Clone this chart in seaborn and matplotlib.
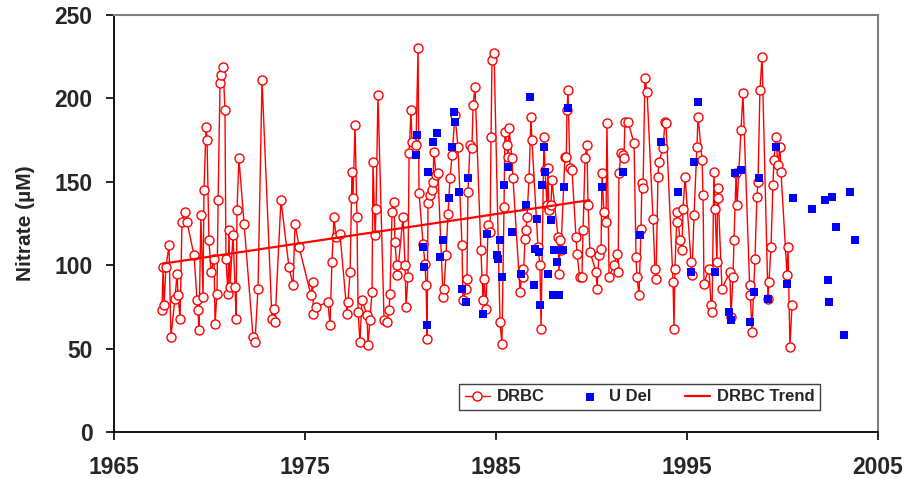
import matplotlib
matplotlib.use("Agg")
import matplotlib.pyplot as plt
import seaborn as sns
import pandas as pd

drbc_years = [
    1967.51, 1967.57, 1967.62, 1967.72, 1967.88, 1967.98, 1968.19, 1968.30, 1968.35, 1968.46,
    1968.56, 1968.72, 1968.82, 1969.19, 1969.35, 1969.40, 1969.45, 1969.55, 1969.66, 1969.71,
    1969.82, 1969.87, 1969.97, 1970.08, 1970.24, 1970.29, 1970.39, 1970.45, 1970.55, 1970.60,
    1970.71, 1970.81, 1970.86, 1970.97, 1971.02, 1971.07, 1971.23, 1971.34, 1971.39, 1971.44,
    1971.54, 1971.81, 1972.28, 1972.38, 1972.54, 1972.75, 1973.27, 1973.38, 1973.43, 1973.74,
    1974.16, 1974.37, 1974.48, 1974.69, 1975.31, 1975.40, 1975.44, 1975.58, 1976.20, 1976.31,
    1976.41, 1976.52, 1976.62, 1976.83, 1977.20, 1977.25, 1977.36, 1977.46, 1977.51, 1977.62,
    1977.72, 1977.78, 1977.88, 1977.98, 1978.25, 1978.30, 1978.40, 1978.51, 1978.56, 1978.67,
    1978.72, 1978.82, 1979.14, 1979.29, 1979.40, 1979.45, 1979.56, 1979.66, 1979.71, 1979.80,
    1979.84, 1980.13, 1980.24, 1980.29, 1980.39, 1980.45, 1980.55, 1980.60, 1980.81, 1980.92,
    1980.97, 1981.18, 1981.28, 1981.34, 1981.39, 1981.44, 1981.54, 1981.65, 1981.70, 1981.75,
    1981.86, 1981.96, 1982.23, 1982.28, 1982.38, 1982.49, 1982.59, 1982.70, 1982.85, 1983.01,
    1983.22, 1983.27, 1983.43, 1983.48, 1983.53, 1983.64, 1983.74, 1983.80, 1983.90, 1984.21,
    1984.32, 1984.37, 1984.48, 1984.58, 1984.69, 1984.74, 1984.79, 1984.90, 1985.21, 1985.31,
    1985.42, 1985.47, 1985.58, 1985.63, 1985.68, 1985.84, 1985.89, 1986.26, 1986.39, 1986.43,
    1986.52, 1986.57, 1986.62, 1986.73, 1986.83, 1986.88, 1987.20, 1987.30, 1987.36, 1987.51,
    1987.57, 1987.67, 1987.72, 1987.77, 1987.88, 1987.93, 1988.25, 1988.30, 1988.35, 1988.40,
    1988.61, 1988.68, 1988.72, 1988.77, 1988.87, 1988.98, 1989.19, 1989.24, 1989.38, 1989.50,
    1989.56, 1989.66, 1989.76, 1989.82, 1989.92, 1990.24, 1990.29, 1990.39, 1990.50, 1990.55,
    1990.65, 1990.76, 1990.81, 1990.92, 1991.18, 1991.34, 1991.39, 1991.44, 1991.54, 1991.65,
    1991.70, 1991.75, 1991.91, 1992.23, 1992.33, 1992.38, 1992.49, 1992.59, 1992.64, 1992.70,
    1992.80, 1992.91, 1993.22, 1993.32, 1993.38, 1993.48, 1993.53, 1993.74, 1993.85, 1993.90,
    1994.27, 1994.32, 1994.37, 1994.46, 1994.50, 1994.63, 1994.74, 1994.79, 1994.90, 1995.21,
    1995.26, 1995.37, 1995.52, 1995.58, 1995.79, 1995.84, 1995.89, 1996.15, 1996.26, 1996.31,
    1996.41, 1996.47, 1996.57, 1996.60, 1996.64, 1996.83, 1997.25, 1997.30, 1997.41, 1997.46,
    1997.57, 1997.62, 1997.83, 1997.93, 1998.28, 1998.32, 1998.40, 1998.56, 1998.66, 1998.72,
    1998.82, 1998.93, 1999.24, 1999.29, 1999.40, 1999.50, 1999.55, 1999.66, 1999.76, 1999.87,
    1999.92, 2000.24, 2000.29, 2000.39, 2000.50,
]
drbc_values = [
    73, 99, 76, 99, 112, 57, 80, 95, 82, 68,
    126, 132, 126, 106, 79, 73, 61, 130, 81, 145,
    183, 175, 115, 96, 104, 65, 83, 139, 209, 214,
    219, 193, 104, 83, 121, 87, 118, 87, 68, 133,
    164, 125, 57, 54, 86, 211, 68, 74, 66, 139,
    99, 88, 125, 111, 82, 90, 71, 75, 78, 64,
    102, 129, 117, 119, 71, 78, 96, 156, 140, 184,
    129, 72, 54, 79, 70, 52, 67, 84, 162, 118,
    134, 202, 67, 66, 73, 83, 132, 138, 114, 100,
    94, 129, 100, 75, 93, 167, 193, 174, 172, 230,
    143, 113, 101, 88, 56, 137, 142, 145, 150, 168,
    154, 155, 81, 86, 106, 131, 152, 166, 190, 171,
    112, 79, 86, 92, 144, 172, 170, 196, 207, 109,
    79, 92, 74, 124, 120, 177, 223, 227, 66, 53,
    135, 180, 172, 165, 182, 164, 152, 84, 98, 93,
    116, 121, 129, 152, 189, 175, 111, 100, 62, 177,
    157, 136, 158, 133, 136, 151, 117, 95, 115, 109,
    165, 165, 193, 205, 158, 157, 117, 107, 93, 93,
    121, 164, 172, 136, 108, 96, 86, 106, 110, 155,
    132, 126, 185, 93, 100, 107, 96, 155, 167, 166,
    164, 186, 186, 173, 105, 93, 82, 122, 149, 146,
    212, 204, 128, 98, 92, 153, 162, 170, 186, 185,
    90, 62, 98, 126, 132, 115, 109, 134, 153, 102,
    94, 130, 171, 189, 163, 142, 89, 98, 76, 72,
    156, 134, 102, 146, 140, 86, 96, 69, 93, 115,
    155, 136, 181, 203, 88, 82, 60, 104, 141, 150,
    205, 225, 80, 90, 111, 148, 163, 177, 160, 171,
    156, 94, 111, 51, 76,
]

udel_years = [
    1980.81, 1980.86, 1981.18, 1981.23, 1981.39, 1981.44, 1981.70, 1981.91, 1982.07, 1982.23,
    1982.54, 1982.70, 1982.80, 1982.85, 1983.06, 1983.22, 1983.43, 1983.53, 1984.32, 1984.53,
    1985.05, 1985.10, 1985.21, 1985.31, 1985.42, 1985.63, 1985.84, 1986.31, 1986.57, 1986.78,
    1986.99, 1987.04, 1987.15, 1987.25, 1987.30, 1987.41, 1987.51, 1987.57, 1987.72, 1987.88,
    1987.98, 1988.04, 1988.19, 1988.30, 1988.35, 1988.51, 1988.56, 1988.77, 1990.55, 1991.65,
    1992.54, 1993.64, 1994.53, 1995.21, 1995.37, 1995.58, 1996.47, 1997.20, 1997.30, 1997.51,
    1997.83, 1998.30, 1998.51, 1998.77, 1999.24, 1999.66, 2000.24, 2000.55, 2001.54, 2002.23,
    2002.38, 2002.43, 2002.59, 2002.80, 2003.22, 2003.53, 2003.80,
]
udel_values = [
    166, 178, 111, 99, 64, 156, 174, 179, 105, 115,
    140, 171, 192, 186, 144, 86, 78, 152, 71, 119,
    106, 104, 115, 93, 148, 159, 120, 95, 136, 201,
    88, 110, 128, 108, 76, 148, 171, 156, 95, 127,
    82, 109, 102, 82, 109, 109, 147, 194, 147, 156,
    118, 174, 144, 96, 162, 198, 96, 72, 67, 155,
    157, 66, 84, 152, 80, 171, 89, 140, 134, 139,
    91, 78, 141, 123, 58, 144, 115,
]

trend_years = [1967.6, 1989.9]
trend_values = [101, 139]

x_ticks = [1965, 1975, 1985, 1995, 2005]
y_ticks = [0, 50, 100, 150, 200, 250]

sns.set_theme(style="white")
plt.rcParams["font.family"] = ["Liberation Sans", "DejaVu Sans"]

drbc = pd.DataFrame({"year": drbc_years, "nitrate": drbc_values})
udel = pd.DataFrame({"year": udel_years, "nitrate": udel_values})
trend = pd.DataFrame({"year": trend_years, "nitrate": trend_values})

fig = plt.figure(figsize=(9.07, 4.78), dpi=100)
ax = fig.add_axes([0.1257, 0.0962, 0.8423, 0.8724])

sns.lineplot(data=drbc, x="year", y="nitrate", ax=ax, sort=False, estimator=None,
             color="#FF0000", lw=1.0, marker="o", markersize=6.5,
             markerfacecolor="white", markeredgecolor="#FF0000", markeredgewidth=1.0,
             label="DRBC", zorder=3)
sns.scatterplot(data=udel, x="year", y="nitrate", ax=ax, color="#0000FF", marker="s",
                s=30, linewidth=0, label="U Del", zorder=4)
sns.lineplot(data=trend, x="year", y="nitrate", ax=ax, sort=False, estimator=None,
             color="#FF0000", lw=1.6, label="DRBC Trend", zorder=5)

ax.set_xlim(1965, 2005)
ax.set_ylim(0, 250)
ax.set_xticks(x_ticks)
ax.set_yticks(y_ticks)
ax.set_xticklabels([str(t) for t in x_ticks], fontsize=16.5, fontweight="bold")
ax.set_yticklabels([str(t) for t in y_ticks], fontsize=16.5, fontweight="bold")
ax.set_xlabel("")
ax.set_ylabel("Nitrate (µM)", fontsize=15, fontweight="bold")
ax.yaxis.set_label_coords(-0.103, 0.5)

for side in ["left", "bottom"]:
    ax.spines[side].set_color("black")
    ax.spines[side].set_linewidth(1.3)
for side in ["top", "right"]:
    ax.spines[side].set_color("#808080")
    ax.spines[side].set_linewidth(1.5)
ax.tick_params(axis="both", direction="out", length=5.5, width=1.2, color="black",
               left=True, bottom=True)
ax.tick_params(axis="y", pad=10)
ax.tick_params(axis="x", pad=12)

leg = ax.legend(loc="center", bbox_to_anchor=(0.688, 0.084), ncol=3, frameon=True,
                fancybox=False, edgecolor="#404040", framealpha=1,
                prop={"size": 12, "weight": "bold"}, handlelength=1.5,
                columnspacing=2.0, handletextpad=0.4, borderpad=0.35)
leg.get_frame().set_linewidth(1.0)

fig.savefig("out.png", dpi=100)
